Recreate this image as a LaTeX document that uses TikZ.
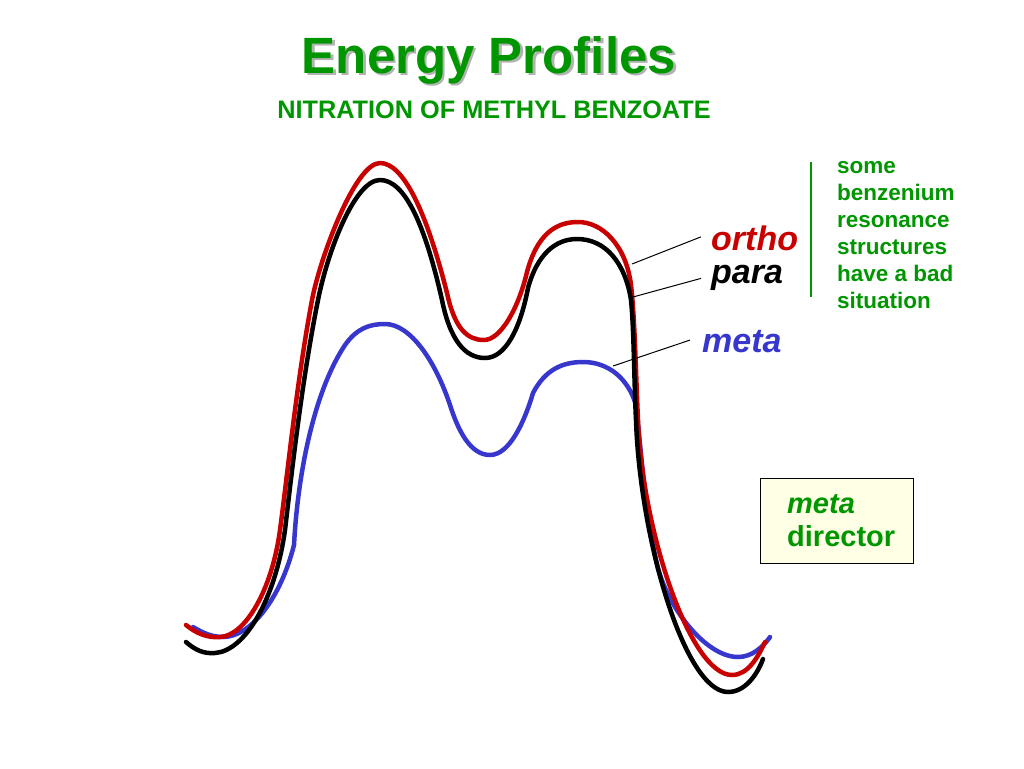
\documentclass[tikz,border=0pt]{standalone}
\usepackage{fontspec}
\setmainfont{Liberation Sans}
\definecolor{ttlgreen}{RGB}{0,150,0}
\definecolor{ored}{RGB}{200,0,0}
\definecolor{mblue}{RGB}{55,55,205}
\definecolor{boxfill}{RGB}{255,255,230}
\tikzset{
  curve/.style={line width=4.5pt, line cap=round, line join=round},
  leader/.style={line width=1pt, black},
  lbl/.style={inner sep=0pt, font=\fontsize{34}{40}\selectfont\bfseries\itshape},
  side/.style={inner sep=0pt, anchor=base west, text=ttlgreen, font=\fontsize{22.5}{27}\selectfont\bfseries},
}
\begin{document}
\begin{tikzpicture}[x=1pt,y=-1pt]
\useasboundingbox (0,0) rectangle (1024,768);
% title
\node[anchor=base, inner sep=0pt, text=black!30, font=\fontsize{51}{60}\selectfont\bfseries] at (491.5,75.5) {Energy Profiles};
\node (title) [anchor=base, inner sep=0pt, text=ttlgreen, font=\fontsize{51}{60}\selectfont\bfseries] at (489,73) {Energy Profiles};
\node (sub) [anchor=base, inner sep=0pt, text=ttlgreen, font=\fontsize{25.3}{30}\selectfont\bfseries] at (494,118) {NITRATION OF METHYL BENZOATE};

% meta curve
\draw[curve, mblue] (193,627) .. controls (203,633) and (212,637) .. (223,637)
  .. controls (250,637) and (280,600) .. (294,545)
  .. controls (298,470) and (315,390) .. (345,345)
  .. controls (357,328) and (370,324) .. (385,324)
  .. controls (410,324) and (435,360) .. (450,405)
  .. controls (458,430) and (470,455) .. (490,455)
  .. controls (510,455) and (525,420) .. (533,393)
  .. controls (545,370) and (562,362) .. (583,362)
  .. controls (608,362) and (628,378) .. (636,405)
  .. controls (640,440) and (645,510) .. (656,560)
  .. controls (665,605) and (705,657) .. (738,657)
  .. controls (752,657) and (763,647) .. (770,637);
% ortho curve
\draw[curve, ored] (186,625) .. controls (197,634) and (208,638) .. (220,637)
  .. controls (245,636) and (272,590) .. (280,530)
  .. controls (288,470) and (297,380) .. (312,300)
  .. controls (320,258) and (355,163) .. (380,163)
  .. controls (402,163) and (425,206) .. (447,293)
  .. controls (455,330) and (468,340) .. (484,340)
  .. controls (500,340) and (518,310) .. (527,272)
  .. controls (537,235) and (555,222) .. (578,222)
  .. controls (602,222) and (626,245) .. (631,285)
  .. controls (635,320) and (636,380) .. (638,420)
  .. controls (642,530) and (690,675) .. (732,675)
  .. controls (748,675) and (758,657) .. (765,642);
% para curve
\draw[curve, black] (186,642) .. controls (195,650) and (204,654) .. (215,653)
  .. controls (245,651) and (275,600) .. (285,530)
  .. controls (292,470) and (302,380) .. (318,300)
  .. controls (328,250) and (355,180) .. (380,180)
  .. controls (405,180) and (425,225) .. (442,300)
  .. controls (450,340) and (465,358) .. (485,358)
  .. controls (505,358) and (520,330) .. (528,288)
  .. controls (537,255) and (555,239) .. (577,239)
  .. controls (605,239) and (625,262) .. (631,300)
  .. controls (634,330) and (634,380) .. (636,420)
  .. controls (640,540) and (685,692) .. (728,692)
  .. controls (745,692) and (757,675) .. (763,659);

% labels
\node (ortho) [lbl, anchor=base west, text=ored] at (711,250) {ortho};
\node (para) [lbl, anchor=base west, text=black] at (711,283) {para};
\node (meta) [lbl, anchor=base west, text=mblue] at (702,352) {meta};
\coordinate (oC) at (632,264);
\coordinate (pC) at (633,297);
\coordinate (mC) at (613,366);
\draw[leader] (oC) -- ([xshift=-10pt,yshift=1pt]ortho.west);
\draw[leader] (pC) -- ([xshift=-10pt,yshift=-1pt]para.west);
\draw[leader] (mC) -- ([xshift=-12pt,yshift=1pt]meta.west);

% green bracket and note
\coordinate (gT) at (811,162);
\coordinate (gB) at (811,297);
\draw[line width=1.3pt, ttlgreen] (gT) -- (gB);
\node (n1) [side] at (837,173) {some};
\node (n2) [side] at (837,200) {benzenium};
\node (n3) [side] at (837,227) {resonance};
\node (n4) [side] at (837,254) {structures};
\node (n5) [side] at (837,281) {have a bad};
\node (n6) [side] at (837,308) {situation};

% meta director box
\node (box) [draw=black, line width=1pt, fill=boxfill, minimum width=153pt, minimum height=85pt, inner sep=0pt] at (836.5,520.5) {};
\node (bm) [inner sep=0pt, anchor=base west, text=ttlgreen, font=\fontsize{29}{33}\selectfont\bfseries\itshape] at (787,513) {meta};
\node (bd) [inner sep=0pt, anchor=base west, text=ttlgreen, font=\fontsize{29}{33}\selectfont\bfseries] at (787,546) {director};
\end{tikzpicture}
\end{document}
